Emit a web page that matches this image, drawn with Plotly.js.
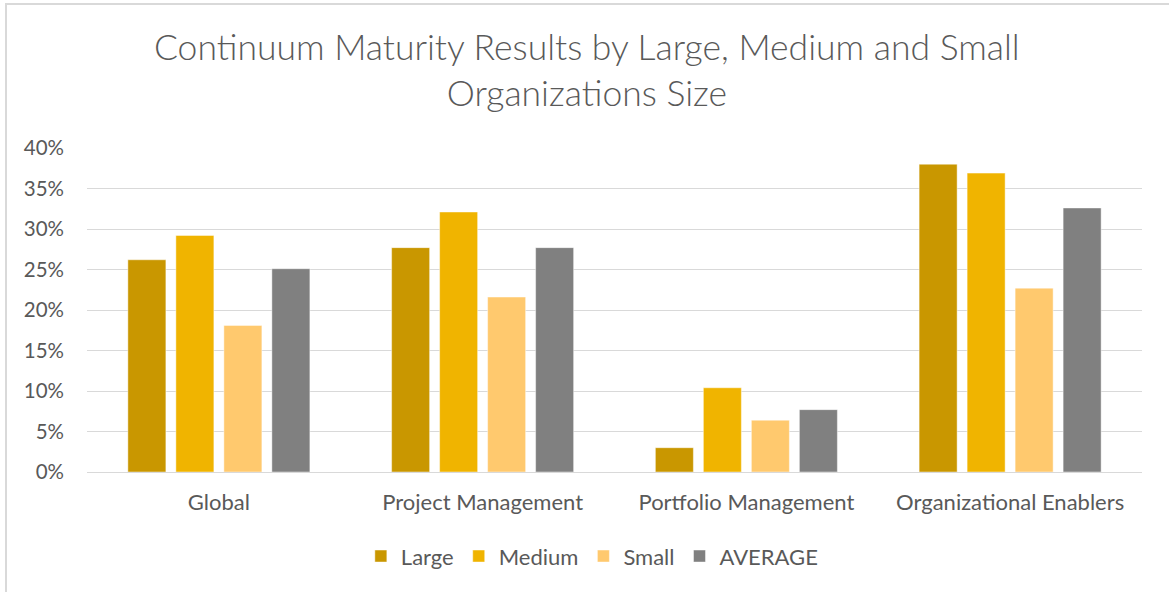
<!DOCTYPE html>
<html>
<head>
<meta charset="utf-8">
<script src="https://cdn.plot.ly/plotly-3.0.1.min.js"></script>
<style>
  html, body { margin: 0; padding: 0; background: #ffffff; }
  #wrap { position: relative; width: 1169px; height: 592px; overflow: hidden; }
  #frame { position: absolute; left: 5px; top: 3px; right: -10px; bottom: -10px; border-left: 2px solid #d9d9d9; border-top: 2px solid #d9d9d9; pointer-events: none; }
  #chart { position: absolute; left: 0; top: 0; width: 1169px; height: 592px; }
</style>
</head>
<body>
<div id="wrap">
  <div id="chart"></div>
  <div id="frame"></div>
</div>
<script>
const categories = ["Global", "Project Management", "Portfolio Management", "Organizational Enablers"];
const seriesNames = ["Large", "Medium", "Small", "AVERAGE"];
const large   = [0.262, 0.277, 0.030, 0.380];
const medium  = [0.292, 0.321, 0.104, 0.369];
const small   = [0.181, 0.216, 0.064, 0.227];
const average = [0.251, 0.277, 0.077, 0.326];
const colors = ["#C99700", "#F0B400", "#FFC96E", "#808080"];

const values = [large, medium, small, average];
const FONT = "Lato, 'Open Sans', sans-serif";

const traces = values.map((v, i) => ({
  type: "bar",
  name: seriesNames[i],
  x: categories,
  y: v,
  marker: { color: colors[i], line: { color: "rgba(255,255,255,0.45)", width: 1 } },
  hoverinfo: "x+y+name"
}));

const layout = {
  width: 1169,
  height: 592,
  margin: { l: 87, r: 27, t: 148, b: 120 },
  paper_bgcolor: "rgba(0,0,0,0)",
  plot_bgcolor: "#ffffff",
  font: { family: FONT, color: "#595959", size: 20 },
  title: {
    text: "Continuum Maturity Results by Large, Medium and Small<br>Organizations Size",
    font: { family: FONT, size: 35.5, color: "#595959", weight: 300 },
    x: 0.502, xref: "container", xanchor: "center",
    y: 1 - 60 / 592, yref: "container", yanchor: "middle"
  },
  barmode: "group",
  bargap: 0.272,
  bargroupgap: 0.208,
  xaxis: {
    type: "category",
    showgrid: false,
    showline: true,
    linecolor: "#d9d9d9",
    linewidth: 1,
    ticks: "",
    tickfont: { family: FONT, size: 22, color: "#595959" },
    ticklabelstandoff: 11
  },
  yaxis: {
    range: [0, 0.4],
    dtick: 0.05,
    tickformat: ".0%",
    showgrid: true,
    gridcolor: "#d9d9d9",
    gridwidth: 1,
    zeroline: false,
    showline: false,
    ticks: "",
    tickfont: { family: FONT, size: 20.5, color: "#595959" },
    ticklabelstandoff: 22
  },
  showlegend: true,
  legend: {
    orientation: "h",
    x: 0.479, xanchor: "center",
    y: -0.26, yanchor: "middle",
    font: { family: FONT, size: 22, color: "#595959" },
    itemwidth: 30,
    traceorder: "normal"
  }
};

Plotly.newPlot("chart", traces, layout, { displayModeBar: false, staticPlot: true });
</script>
</body>
</html>
